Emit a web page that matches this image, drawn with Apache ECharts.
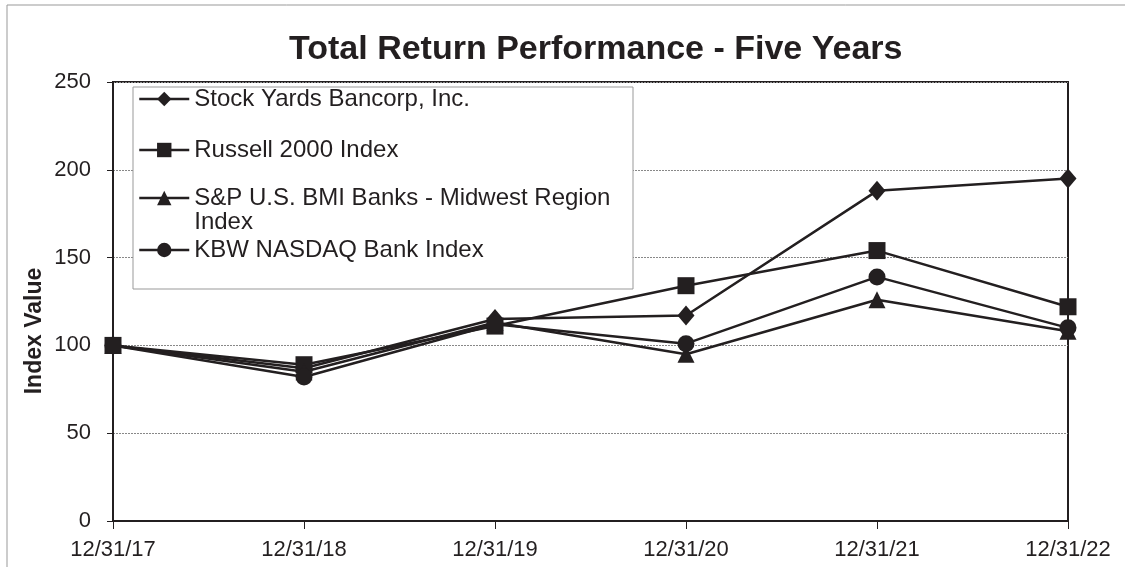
<!DOCTYPE html>
<html>
<head>
<meta charset="utf-8">
<script src="https://cdn.jsdelivr.net/npm/echarts@6/dist/echarts.min.js"></script>
<style>
  html, body { margin: 0; padding: 0; background: #fff; }
  #chart { width: 1125px; height: 567px; }
</style>
</head>
<body>
<div id="chart"></div>
<script>
const dates = ['12/31/17', '12/31/18', '12/31/19', '12/31/20', '12/31/21', '12/31/22'];
const stockYards = [100, 87, 115, 117, 188, 195];
const russell2000 = [100, 89, 111, 134, 154, 122];
const spMidwest = [100, 85, 113, 95, 126, 108];
const kbwBank = [100, 82, 112, 101, 139, 110];
const yTicks = { min: 0, max: 250, interval: 50 };

const names = ['Stock Yards Bancorp, Inc.', 'Russell 2000 Index', 'S&P U.S. BMI Banks - Midwest Region Index', 'KBW NASDAQ Bank Index'];
const ink = '#231f20';
const font = "'Liberation Sans', Arial, sans-serif";

const chart = echarts.init(document.getElementById('chart'));

// one legend per row, so the wrapped third entry keeps its icon on the first line
function legendAt(name, top, label) {
  return {
    data: [name],
    left: 138,
    top: top,
    padding: 0,
    itemWidth: 50,
    itemHeight: 18,
    formatter: () => label,
    lineStyle: { width: 2.5 },
    textStyle: { fontFamily: font, fontSize: 24, lineHeight: 24, color: ink },
  };
}

function makeSeries(name, data, symbol, size) {
  return {
    name: name,
    type: 'line',
    data: data,
    symbol: symbol,
    symbolSize: size,
    color: ink,
    lineStyle: { color: ink, width: 2.5 },
    itemStyle: { color: ink },
  };
}

const option = {
  animation: false,
  title: {
    text: 'Total Return Performance - Five Years',
    left: 284,
    top: 28,
    textStyle: { fontFamily: font, fontSize: 34, fontWeight: 'bold', color: ink },
  },
  grid: {
    left: 113,
    right: 57,
    top: 82,
    bottom: 46,
    show: true,
    borderColor: ink,
    borderWidth: 2,
  },
  legend: [
    legendAt(names[0], 87, 'Stock Yards Bancorp, Inc.'),
    legendAt(names[1], 138, 'Russell 2000 Index'),
    legendAt(names[2], 162, '\nS&P U.S. BMI Banks - Midwest Region\nIndex'),
    legendAt(names[3], 238, 'KBW NASDAQ Bank Index'),
  ],
  xAxis: {
    type: 'category',
    data: dates,
    boundaryGap: false,
    axisLine: { lineStyle: { color: ink, width: 2 } },
    axisTick: { show: true, length: 8, lineStyle: { color: ink } },
    axisLabel: { fontFamily: font, fontSize: 22, color: ink, margin: 18 },
    splitLine: { show: false },
  },
  yAxis: {
    type: 'value',
    min: yTicks.min,
    max: yTicks.max,
    interval: yTicks.interval,
    axisLine: { show: true, lineStyle: { color: ink, width: 2 } },
    axisTick: { show: true, length: 6, lineStyle: { color: ink } },
    axisLabel: { fontFamily: font, fontSize: 22, color: ink, margin: 22 },
    splitLine: { show: true, lineStyle: { color: '#888', type: [2, 1], width: 1 } },
  },
  graphic: [
    { type: 'line', shape: { x1: 7, y1: 5, x2: 7, y2: 567 }, style: { stroke: '#999', lineWidth: 1 } },
    { type: 'line', shape: { x1: 7, y1: 5, x2: 1125, y2: 5 }, style: { stroke: '#999', lineWidth: 1 } },
    {
      type: 'rect', z: 3,
      shape: { x: 133, y: 87, width: 500, height: 202 },
      style: { fill: '#fff', stroke: '#999', lineWidth: 1 },
    },
    {
      type: 'text', x: 35, y: 331, rotation: Math.PI / 2,
      style: {
        text: 'Index Value', font: 'bold 23px ' + font, fill: ink,
        textAlign: 'center', textVerticalAlign: 'middle',
      },
    },
  ],
  series: [
    makeSeries(names[0], stockYards, 'diamond', [17, 20]),
    makeSeries(names[1], russell2000, 'rect', 17),
    makeSeries(names[2], spMidwest, 'triangle', 17),
    makeSeries(names[3], kbwBank, 'circle', 17),
  ],
};

chart.setOption(option);
</script>
</body>
</html>
